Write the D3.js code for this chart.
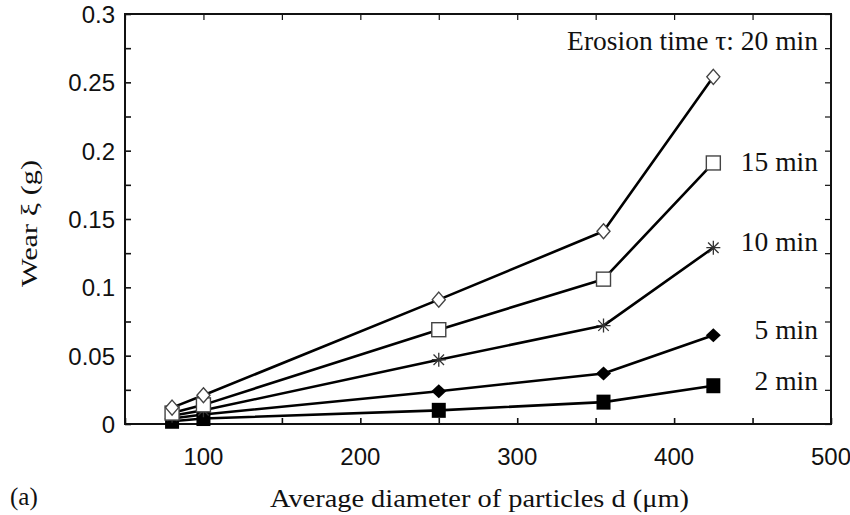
<!DOCTYPE html>
<html>
<head>
<meta charset="utf-8">
<script src="https://cdn.jsdelivr.net/npm/d3@7"></script>
<style>
  html, body { margin: 0; padding: 0; background: #fff; }
  svg { display: block; }
</style>
</head>
<body>
<svg id="chart" width="850" height="515"></svg>
<script>
// Particle diameter d (μm)
const diameters = [80, 100, 250, 355, 425];

// Wear ξ (g) for each erosion time
const wear20 = [0.012, 0.021, 0.091, 0.141, 0.254];
const wear15 = [0.008, 0.014, 0.069, 0.106, 0.191];
const wear10 = [0.006, 0.010, 0.047, 0.072, 0.129];
const wear5  = [0.004, 0.007, 0.024, 0.037, 0.065];
const wear2  = [0.002, 0.004, 0.010, 0.016, 0.028];

const seriesNames = ["20 min", "15 min", "10 min", "5 min", "2 min"];
const seriesLabels = ["Erosion time \u03c4: 20 min", "15 min", "10 min", "5 min", "2 min"];
const seriesMarkers = ["diamondOpen", "squareOpen", "asterisk", "diamondFilled", "squareFilled"];

const xTickLabels = [100, 200, 300, 400, 500];
const yTickLabels = [0, 0.05, 0.1, 0.15, 0.2, 0.25, 0.3];

const series = [wear20, wear15, wear10, wear5, wear2].map((vals, i) => ({
  name: seriesNames[i],
  label: seriesLabels[i],
  marker: seriesMarkers[i],
  points: diameters.map((d, j) => ({ d, w: vals[j] }))
}));

const svg = d3.select("#chart");
const margin = { left: 125, right: 19, top: 14, bottom: 91 };
const W = 850, H = 515;
const x = d3.scaleLinear().domain([50, 500]).range([margin.left, W - margin.right]);
const y = d3.scaleLinear().domain([0, 0.3]).range([H - margin.bottom, margin.top]);

const sans = "'Liberation Sans', Arial, Helvetica, sans-serif";
const serif = "'Liberation Serif', 'Times New Roman', Times, serif";

// Frame with inward ticks on all four sides
const tickLen = 6;
const g = svg.append("g");

const xMinor = d3.range(50, 501, 50);
const yMinor = d3.range(0, 0.3001, 0.025);

const bottomAxis = d3.axisBottom(x).tickValues(xMinor).tickSize(-tickLen).tickFormat("");
const topAxis = d3.axisTop(x).tickValues(xMinor).tickSize(-tickLen).tickFormat("");
const leftAxis = d3.axisLeft(y).tickValues(yMinor).tickSize(-tickLen).tickFormat("");
const rightAxis = d3.axisRight(y).tickValues(yMinor).tickSize(-tickLen).tickFormat("");

function styleAxis(sel, w) {
  sel.select(".domain").remove();
  sel.selectAll(".tick line").attr("stroke", "#111").attr("stroke-width", w);
}
g.append("g").attr("transform", `translate(0,${y(0)})`).call(bottomAxis).call(styleAxis, 1.6);
g.append("g").attr("transform", `translate(0,${y(0.3)})`).call(topAxis).call(styleAxis, 1.2);
g.append("g").attr("transform", `translate(${x(50)},0)`).call(leftAxis).call(styleAxis, 1.6);
g.append("g").attr("transform", `translate(${x(500)},0)`).call(rightAxis).call(styleAxis, 1.2);

g.append("rect")
  .attr("x", x(50)).attr("y", y(0.3))
  .attr("width", x(500) - x(50)).attr("height", y(0) - y(0.3))
  .attr("fill", "none").attr("stroke", "#111").attr("stroke-width", 2);

// Tick labels
g.selectAll(".xlab").data(xTickLabels).enter().append("text")
  .attr("x", d => x(d)).attr("y", y(0) + 41)
  .attr("text-anchor", "middle")
  .style("font-family", sans).style("font-size", "24px").attr("fill", "#111")
  .text(d => d);

g.selectAll(".ylab").data(yTickLabels).enter().append("text")
  .attr("x", x(50) - 10).attr("y", d => y(d) + 9)
  .attr("text-anchor", "end")
  .style("font-family", sans).style("font-size", "24px").attr("fill", "#111")
  .text(d => d);

// Axis titles
svg.append("text")
  .attr("x", 270).attr("y", 507)
  .attr("textLength", 419).attr("lengthAdjust", "spacingAndGlyphs")
  .style("font-family", serif).style("font-size", "26px").attr("fill", "#111")
  .text("Average diameter of particles d (\u03bcm)");

svg.append("text")
  .attr("x", 10).attr("y", 505)
  .style("font-family", serif).style("font-size", "25px").attr("fill", "#111")
  .text("(a)");

svg.append("text")
  .attr("transform", `translate(37,287) rotate(-90)`)
  .attr("textLength", 127).attr("lengthAdjust", "spacingAndGlyphs")
  .style("font-family", serif).style("font-size", "24px").attr("fill", "#111")
  .text("Wear \u03be (g)");

// Lines
const line = d3.line().x(p => x(p.d)).y(p => y(p.w));
const plot = svg.append("g");
series.forEach(s => {
  plot.append("path")
    .datum(s.points)
    .attr("d", line)
    .attr("fill", "none")
    .attr("stroke", "#000")
    .attr("stroke-width", 2.6)
    .attr("stroke-linejoin", "round");
});

// Markers
function drawMarker(sel, type) {
  if (type === "diamondOpen") {
    sel.append("path").attr("d", `M0,-7.5L6.5,0L0,7.5L-6.5,0Z`)
      .attr("fill", "#fff").attr("stroke", "#444").attr("stroke-width", 1.4);
  } else if (type === "squareOpen") {
    sel.append("rect").attr("x", -7).attr("y", -7).attr("width", 14).attr("height", 14)
      .attr("fill", "#fff").attr("stroke", "#444").attr("stroke-width", 1.4);
  } else if (type === "asterisk") {
    const a = 7;
    const d = a * 0.75;
    sel.append("path")
      .attr("d", `M0,${-a}V${a}M${-d},${-d}L${d},${d}M${-d},${d}L${d},${-d}M${-a},0H${a}`)
      .attr("stroke", "#333").attr("stroke-width", 1.3).attr("fill", "none");
  } else if (type === "diamondFilled") {
    sel.append("path").attr("d", `M0,-7L7.5,0L0,7L-7.5,0Z`).attr("fill", "#000");
  } else if (type === "squareFilled") {
    sel.append("rect").attr("x", -7).attr("y", -7.5).attr("width", 14).attr("height", 15)
      .attr("fill", "#000");
  }
}

// Draw from the lowest series up so the open markers sit on top
series.slice().reverse().forEach(s => {
  s.points.forEach(p => {
    const m = plot.append("g").attr("transform", `translate(${x(p.d)},${y(p.w)})`);
    drawMarker(m, s.marker);
  });
});

// Series labels at the right end of each curve (baseline positions)
const labelBaseline = { "20 min": 50, "15 min": 171, "10 min": 251, "5 min": 339, "2 min": 390 };
series.forEach(s => {
  svg.append("text")
    .attr("x", 818).attr("y", labelBaseline[s.name])
    .attr("text-anchor", "end")
    .style("font-family", serif).style("font-size", "27.5px").attr("fill", "#111")
    .text(s.label);
});
</script>
</body>
</html>
